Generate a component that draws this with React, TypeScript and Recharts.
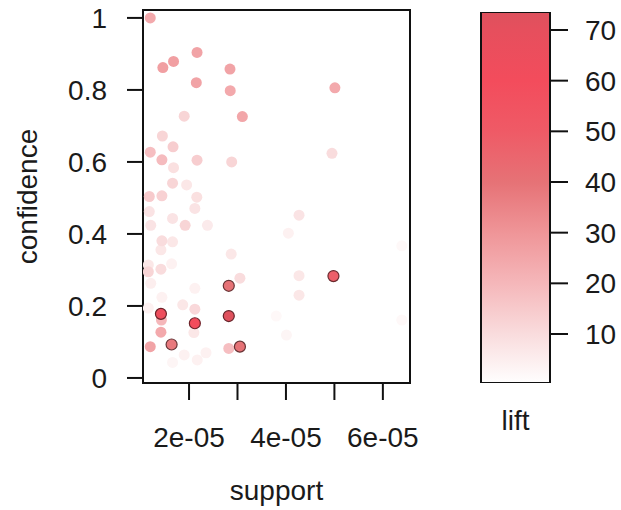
import React from 'react';
import {
  ScatterChart,
  Scatter,
  XAxis,
  YAxis,
  Cell,
  ReferenceArea,
  ComposedChart,
  Bar,
} from 'recharts';

// rules: support (in units of 1e-05), confidence, lift
const support = [
  1.2, 1.46, 1.68, 2.165, 2.845, 2.15, 2.85, 5.01, 1.9, 3.1,
  1.45, 1.2, 1.67, 1.44, 2.165, 2.88, 4.95, 1.68, 1.66, 1.95,
  1.18, 1.44, 2.16, 1.18, 2.12, 1.66, 1.21, 1.92, 2.38, 4.27,
  4.05, 1.44, 1.66, 1.42, 2.87, 6.39, 1.16, 1.16, 1.42, 1.64,
  1.21, 3.05, 4.27, 4.98, 2.82, 2.12, 4.27, 1.44, 1.87, 2.12,
  1.16, 1.42, 1.43, 2.12, 2.82, 1.42, 2.1, 1.2, 1.64, 2.82,
  3.05, 4.01, 6.39, 1.9, 2.35, 2.17, 1.66, 3.8,
];
const confidence = [
  1.0, 0.862, 0.879, 0.904, 0.858, 0.82, 0.798, 0.806, 0.727, 0.726,
  0.672, 0.627, 0.642, 0.606, 0.605, 0.6, 0.624, 0.584, 0.541, 0.536,
  0.504, 0.506, 0.502, 0.462, 0.471, 0.443, 0.424, 0.424, 0.424, 0.452,
  0.402, 0.381, 0.378, 0.356, 0.344, 0.367, 0.314, 0.295, 0.302, 0.317,
  0.263, 0.277, 0.284, 0.283, 0.256, 0.249, 0.23, 0.224, 0.203, 0.191,
  0.194, 0.178, 0.161, 0.152, 0.172, 0.127, 0.126, 0.087, 0.093, 0.082,
  0.087, 0.119, 0.161, 0.064, 0.07, 0.05, 0.043, 0.172,
];
const lift = [
  24, 27, 27, 26, 26, 26, 24, 24, 12, 25,
  12, 18, 14, 19, 14, 12, 10, 9, 12, 7,
  15, 13, 9, 8, 8, 8, 8, 12, 6, 8,
  4, 10, 7, 7, 7, 2, 7, 12, 10, 4,
  5, 10, 7, 48, 40, 4, 7, 4, 7, 11,
  4, 64, 20, 60, 73, 24, 7, 26, 38, 18,
  40, 3, 2, 4, 4, 4, 3, 2,
];

const supportTicks = [2, 3, 4, 5, 6];
const labelledSupport = [2, 4, 6];
const confidenceTicks = [0, 0.2, 0.4, 0.6, 0.8, 1];
const liftTicks = [10, 20, 30, 40, 50, 60, 70];
const liftRange: [number, number] = [0.33, 73.55];

// colour ramp of the lift scale
const rampValues = [0, 10, 20, 30, 40, 50, 60, 70, 74];
const rampColors = [
  '#ffffff', '#f9dcdd', '#f5b7ba', '#ef9598', '#e67276',
  '#ef5a66', '#f34c5c', '#e64f5d', '#dc515d',
];

const hex = (c: string) => [1, 3, 5].map((i) => parseInt(c.slice(i, i + 2), 16));
const toHex = (rgb: number[]) =>
  '#' + rgb.map((v) => Math.round(Math.max(0, Math.min(255, v))).toString(16).padStart(2, '0')).join('');

function liftColor(v: number) {
  for (let i = 1; i < rampValues.length; i++) {
    if (v <= rampValues[i]) {
      const t = (v - rampValues[i - 1]) / (rampValues[i] - rampValues[i - 1]);
      const a = hex(rampColors[i - 1]);
      const b = hex(rampColors[i]);
      return toHex(a.map((x, k) => x + (b[k] - x) * t));
    }
  }
  return rampColors[rampColors.length - 1];
}

const darker = (c: string, f: number) => toHex(hex(c).map((x) => x * f));

const rules = support
  .map((s, i) => ({ support: s * 1e-5, confidence: confidence[i], lift: lift[i] }))
  .sort((a, b) => a.lift - b.lift);

const xDomain: [number, number] = [1.05e-5, 6.56e-5];
const yDomain: [number, number] = [-0.014, 1.022];

const font = '"Liberation Sans", Arial, sans-serif';
const tickStyle = { fontSize: 28, fill: '#1a1a1a', fontFamily: font };

const Dot = (props: any) => {
  const { cx, cy, fill, payload } = props;
  const edge = payload.lift >= 30;
  return (
    <circle
      cx={cx}
      cy={cy}
      r={5.5}
      fill={fill}
      stroke={edge ? darker(fill, 0.45) : 'none'}
      strokeWidth={edge ? 1.2 : 0}
    />
  );
};

// gradient stops, top (high lift) to bottom
const gradStops = [...rampValues].reverse().map((v) => {
  const c = Math.min(Math.max(v, liftRange[0]), liftRange[1]);
  return { offset: (liftRange[1] - c) / (liftRange[1] - liftRange[0]), color: liftColor(c) };
});

export default function App() {
  const barData = [{ name: 'lift', range: liftRange }];
  return (
    <div style={{ position: 'absolute', left: 0, top: 0, width: 621, height: 510, background: '#fff' }}>
      <div style={{ position: 'absolute', left: 0, top: 0 }}>
        <ScatterChart width={440} height={510} margin={{ top: 10, right: 30, bottom: 0, left: 0 }}>
          <XAxis
            type="number"
            dataKey="support"
            domain={xDomain}
            allowDataOverflow
            ticks={supportTicks.map((t) => t * 1e-5)}
            tickFormatter={(v: number) => {
              const m = Math.round(v * 1e5);
              return labelledSupport.includes(m) ? `${m}e-05` : '';
            }}
            height={127}
            axisLine={false}
            tickSize={17}
            tickMargin={27}
            tickLine={{ stroke: '#111', strokeWidth: 2 }}
            tick={tickStyle}
            interval={0}
            label={{ value: 'support', position: 'insideBottom', offset: 10, style: tickStyle }}
          />
          <YAxis
            type="number"
            dataKey="confidence"
            domain={yDomain}
            allowDataOverflow
            ticks={confidenceTicks}
            width={143}
            axisLine={false}
            tickSize={16}
            tickMargin={20}
            tickLine={{ stroke: '#111', strokeWidth: 2 }}
            tick={tickStyle}
            interval={0}
            label={{
              content: (p: any) => {
                const vb = p.viewBox || { x: 0, y: 10, height: 373 };
                const x = vb.x + 27;
                const y = vb.y + vb.height / 2;
                return (
                  <text
                    x={x}
                    y={y}
                    transform={`rotate(-90 ${x} ${y})`}
                    textAnchor="middle"
                    dominantBaseline="central"
                    style={tickStyle}
                  >
                    confidence
                  </text>
                );
              },
            }}
          />
          <ReferenceArea
            x1={xDomain[0]}
            x2={xDomain[1]}
            y1={yDomain[0]}
            y2={yDomain[1]}
            fill="none"
            fillOpacity={0}
            stroke="#111"
            strokeWidth={2}
            strokeOpacity={1}
          />
          <Scatter data={rules} isAnimationActive={false} shape={Dot}>
            {rules.map((r, i) => (
              <Cell key={`rule-${i}`} fill={liftColor(r.lift)} />
            ))}
          </Scatter>
        </ScatterChart>
      </div>
      <div style={{ position: 'absolute', left: 440, top: 0 }}>
        <ComposedChart
          width={181}
          height={510}
          data={barData}
          margin={{ top: 12, right: 0, bottom: 0, left: 41 }}
          barCategoryGap={0}
        >
          <defs>
            <linearGradient id="liftGrad" x1="0" y1="0" x2="0" y2="1">
              {gradStops.map((s, i) => (
                <stop key={i} offset={s.offset} stopColor={s.color} />
              ))}
            </linearGradient>
          </defs>
          <XAxis
            dataKey="name"
            height={127}
            tick={false}
            tickLine={false}
            axisLine={false}
            label={{ value: 'lift', position: 'insideTop', offset: 27, style: tickStyle }}
          />
          <YAxis
            orientation="right"
            type="number"
            domain={liftRange}
            allowDataOverflow
            ticks={liftTicks}
            width={71}
            axisLine={false}
            tickSize={18}
            tickMargin={17}
            tickLine={{ stroke: '#111', strokeWidth: 2 }}
            tick={{ ...tickStyle, textAnchor: 'start' }}
            interval={0}
          />
          <Bar dataKey="range" fill="url(#liftGrad)" stroke="#111" strokeWidth={2} isAnimationActive={false} />
        </ComposedChart>
      </div>
    </div>
  );
}
